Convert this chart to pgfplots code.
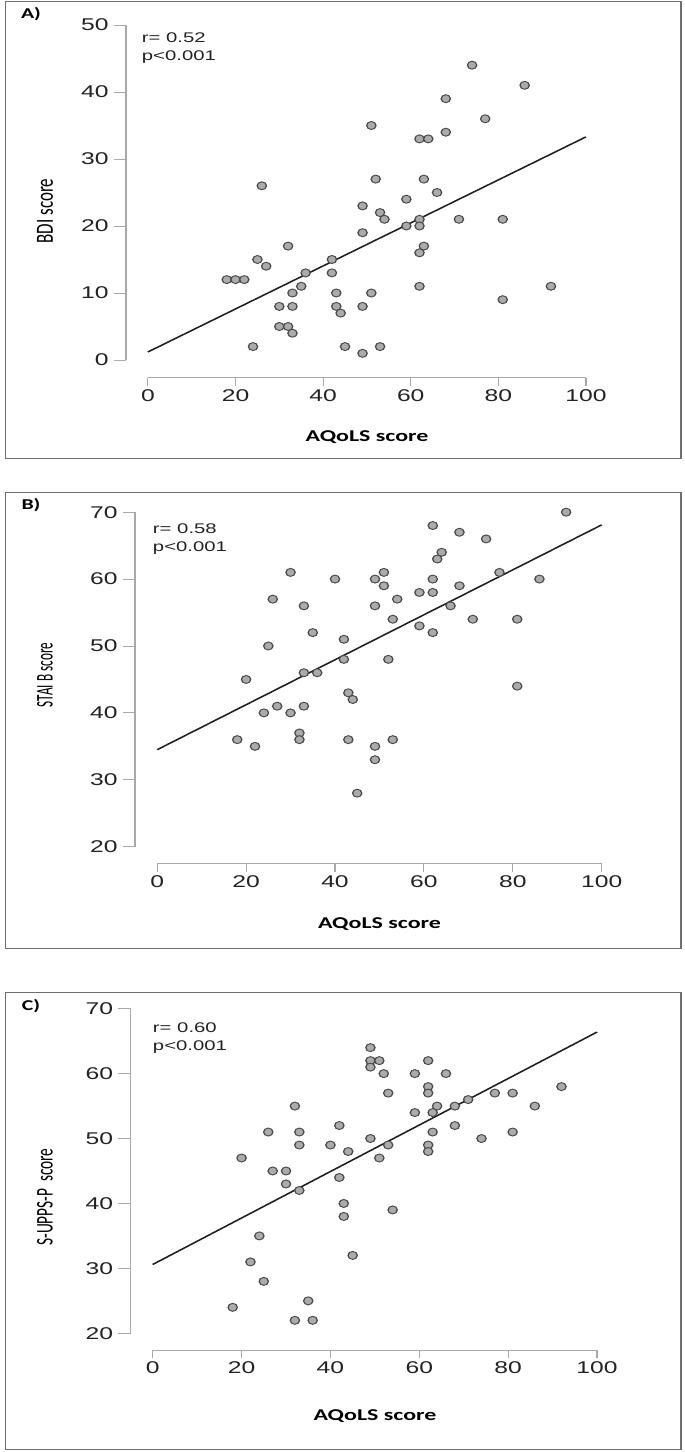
\documentclass[border=0pt]{standalone}
\usepackage{graphicx}
\usepackage{fontspec}
\setmainfont{Liberation Sans}
\newfontfamily\calib{Carlito}
\usepackage{pgfplots}
\usepackage{pgfplotstable}
\pgfplotsset{compat=1.18}
\definecolor{ptfill}{HTML}{ABABAB}
\definecolor{ptdraw}{HTML}{4A4A4A}
\definecolor{axgray}{HTML}{A8A8A8}
\definecolor{labcol}{HTML}{222222}
\definecolor{boxcol}{HTML}{6E6E6E}
\pgfplotstableread{
x y
51 35
26 26
52 27
49 23
53 22
54 21
49 19
32 17
25 15
27 14
18 12
20 12
22 12
36 13
35 11
33 10
30 8
33 8
30 5
32 5
33 4
24 2
42 15
42 13
43 10
43 8
44 7
49 8
51 10
45 2
49 1
53 2
74 44
86 41
68 39
77 36
62 33
64 33
68 34
63 27
66 25
59 24
62 21
62 20
59 20
71 21
81 21
63 17
62 16
62 11
92 11
81 9
}\dataA
\pgfplotstableread{
x y
30 61
40 60
49 60
51 61
51 59
26 57
33 56
49 56
54 57
53 54
35 52
42 51
25 50
42 48
52 48
33 46
36 46
20 45
43 43
44 42
24 40
27 41
30 40
33 41
32 37
32 36
18 36
22 35
43 36
49 35
49 33
53 36
45 28
92 70
62 68
68 67
74 66
64 64
63 63
62 60
77 61
86 60
68 59
59 58
62 58
66 56
71 54
81 54
59 53
62 52
81 44
}\dataB
\pgfplotstableread{
x y
49 64
49 62
51 62
49 61
52 60
53 57
32 55
42 52
26 51
33 51
33 49
40 49
49 50
53 49
44 48
51 47
20 47
27 45
30 45
30 43
33 42
42 44
43 40
43 38
54 39
24 35
45 32
22 31
25 28
35 25
18 24
32 22
36 22
62 62
59 60
66 60
62 58
62 57
92 58
77 57
81 57
71 56
64 55
68 55
86 55
59 54
63 54
68 52
63 51
81 51
74 50
62 49
62 48
}\dataC
\pgfplotsset{
  rstyle/.style={
    scale only axis, anchor=south west,
    xmin=-5, xmax=104,
    xtick={0,20,...,100},
    axis x line*=bottom, axis y line*=left,
    axis line style={draw=none},
    tick align=outside,
    major tick length=8.5pt,
    tick style={draw=axgray, line width=0.8pt},
    /pgf/number format/assume math mode=true,
    ticklabel style={font=\fontsize{17}{17}\selectfont, text=labcol},
    clip=false,
  },
  pts/.style={only marks, mark=*, mark size=4pt,
    mark options={fill=ptfill, draw=ptdraw, line width=0.9pt, xscale=0.8}},
  fit/.style={draw=black!88, line width=1.4pt, no marks},
}
\begin{document}
\scalebox{1.45}[1]{%
\begin{tikzpicture}
\useasboundingbox (0,0) rectangle (472.4pt,1452pt);
\draw[boxcol, line width=1pt] (3.8pt,993pt) rectangle (469.7pt,1450pt);
\draw[boxcol, line width=1pt] (3.8pt,503pt) rectangle (469.7pt,959pt);
\draw[boxcol, line width=1pt] (3.8pt,2pt) rectangle (469.7pt,459pt);

\begin{axis}[rstyle, width=329.3pt, height=366.1pt, at={(86.9pt,1074.3pt)},
  ymin=-2.64, ymax=52, ytick={0,10,...,50}]
\addplot[pts] table[x=x, y=y] {\dataA};
\addplot[fit] coordinates {(0,1.2) (100,33.3)};
\draw[axgray, line width=0.8pt] (axis cs:0,-2.64) -- (axis cs:100,-2.64);
\draw[axgray, line width=0.8pt] (axis cs:-5,0) -- (axis cs:-5,50);
\end{axis}

\begin{axis}[rstyle, width=334.1pt, height=364.5pt, at={(93.1pt,588.7pt)},
  ymin=17.52, ymax=72, ytick={20,30,...,70}]
\addplot[pts] table[x=x, y=y] {\dataB};
\addplot[fit] coordinates {(0,34.5) (100,68.1)};
\draw[axgray, line width=0.8pt] (axis cs:0,17.52) -- (axis cs:100,17.52);
\draw[axgray, line width=0.8pt] (axis cs:-5,20) -- (axis cs:-5,70);
\end{axis}

\begin{axis}[rstyle, width=334.0pt, height=354.3pt, at={(90.0pt,102pt)},
  ymin=17.43, ymax=72, ytick={20,30,...,70}]
\addplot[pts] table[x=x, y=y] {\dataC};
\addplot[fit] coordinates {(0,30.6) (100,66.4)};
\draw[axgray, line width=0.8pt] (axis cs:0,17.43) -- (axis cs:100,17.43);
\draw[axgray, line width=0.8pt] (axis cs:-5,20) -- (axis cs:-5,70);
\end{axis}

\begin{scope}[every node/.style={inner sep=0pt, text=labcol}]
\node[font=\calib\bfseries\fontsize{15}{15}\selectfont, text=black] at (21.4pt,1438pt) {A)};
\node[font=\calib\bfseries\fontsize{15}{15}\selectfont, text=black] at (21.4pt,947pt) {B)};
\node[font=\calib\bfseries\fontsize{15}{15}\selectfont, text=black] at (21.4pt,446pt) {C)};

\node[anchor=base west, font=\fontsize{14}{14}\selectfont] at (97.7pt,1409.2pt) {r= 0.52};
\node[anchor=base west, font=\fontsize{14}{14}\selectfont] at (97.7pt,1391.5pt) {p<0.001};
\node[anchor=base west, font=\fontsize{14}{14}\selectfont] at (105.3pt,918.8pt) {r= 0.58};
\node[anchor=base west, font=\fontsize{14}{14}\selectfont] at (105.3pt,900.5pt) {p<0.001};
\node[anchor=base west, font=\fontsize{14}{14}\selectfont] at (105.3pt,419.8pt) {r= 0.60};
\node[anchor=base west, font=\fontsize{14}{14}\selectfont] at (105.3pt,401.5pt) {p<0.001};

\node[font=\calib\bfseries\fontsize{16.5}{16.5}\selectfont, text=black] at (253.1pt,1015.3pt) {AQoLS score};
\node[font=\calib\bfseries\fontsize{16.5}{16.5}\selectfont, text=black] at (261.7pt,528pt) {AQoLS score};
\node[font=\calib\bfseries\fontsize{16.5}{16.5}\selectfont, text=black] at (258.6pt,36pt) {AQoLS score};

\node[rotate=90, font=\calib\fontsize{17}{17}\selectfont, text=black] at (31pt,1241pt) {BDI score};
\node[rotate=90, font=\calib\fontsize{16.5}{16.5}\selectfont, text=black] at (31pt,777pt) {\scalebox{0.8}[1]{STAI B score}};
\node[rotate=90, font=\calib\fontsize{16.5}{16.5}\selectfont, text=black] at (31pt,255pt) {\scalebox{0.93}[1]{S-UPPS-P\ \ score}};
\end{scope}
\end{tikzpicture}}
\end{document}
